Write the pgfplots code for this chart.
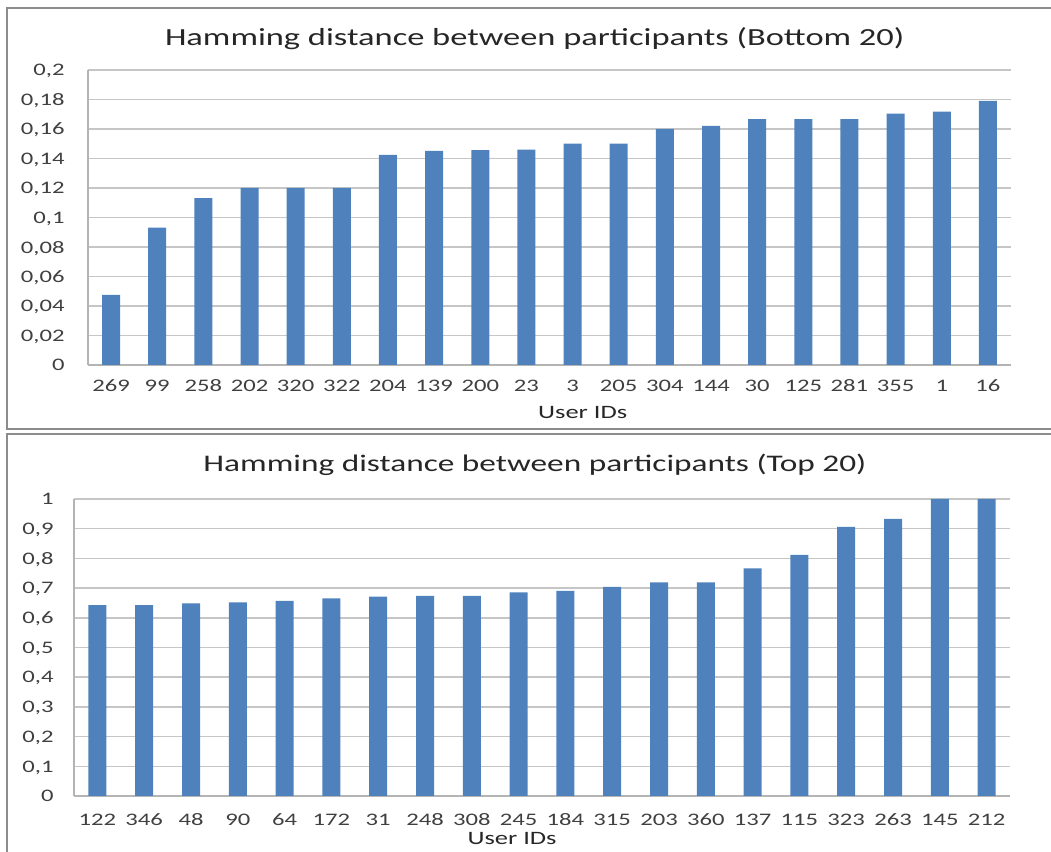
\documentclass[border=0pt]{standalone}
\usepackage{fontspec}
\setmainfont{Carlito}[FakeStretch=1.4]
\usepackage{pgfplots}
\pgfplotsset{compat=1.18}

\definecolor{barblue}{HTML}{4F81BD}
\definecolor{gridgray}{HTML}{C6C6C6}
\definecolor{axisgray}{HTML}{B4B4B4}
\definecolor{framegray}{HTML}{8C8C8C}
\definecolor{ticktext}{HTML}{404040}
\definecolor{titletext}{HTML}{262626}

\pgfplotsset{
  hamming/.style={
    scale only axis,
    ybar,
    bar width=9pt,
    bar shift=0pt,
    xmin=-0.5, xmax=19.5,
    ymin=0,
    axis x line*=bottom,
    axis y line*=left,
    axis line style={axisgray, line width=0.75pt},
    ymajorgrids,
    grid style={gridgray, line width=0.75pt},
    major tick length=0pt,
    xtick={0,...,19},
    /pgf/number format/assume math mode=true,
    /pgf/number format/.cd, use comma, fixed, precision=2, /pgfplots/.cd,
    tick label style={font=\fontsize{8.8}{10}\selectfont, text=ticktext},
    yticklabel style={anchor=east, inner sep=0pt, text depth=0pt},
    xticklabel style={anchor=base, inner sep=0pt},
    xlabel style={font=\fontsize{9.45}{12}\selectfont, text=titletext, anchor=base},
    title style={font=\fontsize{12.3}{14}\selectfont, text=titletext, anchor=base},
  }
}

\begin{document}
\begin{tikzpicture}
\useasboundingbox (0,0) rectangle (525.5pt,426pt);

% panel frames
\draw[framegray, line width=1pt] (525.5pt,422pt) -- (3.5pt,422pt) -- (3.5pt,211.5pt) -- (525.5pt,211.5pt);
\draw[framegray, line width=1pt] (525.5pt,209pt) -- (3.5pt,209pt) -- (3.5pt,0pt);

% Bottom 20
\begin{axis}[hamming,
  at={(44pt,243.5pt)}, anchor=south west,
  width=461.5pt, height=147.5pt,
  ymax=0.2,
  ytick={0,0.02,0.04,0.06,0.08,0.1,0.12,0.14,0.16,0.18,0.2},
  yticklabel style={xshift=-11.5pt},
  xticklabel style={yshift=-13.5pt},
  xticklabels={269,99,258,202,320,322,204,139,200,23,3,205,304,144,30,125,281,355,1,16},
  xlabel={User IDs},
  xlabel style={at={(axis description cs:0.536,-0.180)}},
  title={Hamming distance between participants (Bottom 20)},
  title style={at={(axis description cs:0.484,1.0426)}},
]
\addplot[fill=barblue, draw=none] coordinates {
  (0,0.0475) (1,0.0931) (2,0.1132) (3,0.12) (4,0.12)
  (5,0.12) (6,0.1424) (7,0.1451) (8,0.1456) (9,0.146)
  (10,0.15) (11,0.15) (12,0.16) (13,0.1622) (14,0.1667)
  (15,0.1667) (16,0.1667) (17,0.1704) (18,0.1717) (19,0.179)
};
\end{axis}

% Top 20
\begin{axis}[hamming,
  at={(37pt,28pt)}, anchor=south west,
  width=468pt, height=148.5pt,
  ymax=1,
  ytick={0,0.1,0.2,0.3,0.4,0.5,0.6,0.7,0.8,0.9,1},
  yticklabel style={xshift=-10pt},
  xticklabel style={yshift=-15pt},
  xticklabels={122,346,48,90,64,172,31,248,308,245,184,315,203,360,137,115,323,263,145,212},
  xlabel={User IDs},
  xlabel style={at={(axis description cs:0.468,-0.162)}},
  title={Hamming distance between participants (Top 20)},
  title style={at={(axis description cs:0.4925,1.0506)}, font=\fontsize{11.9}{14}\selectfont},
]
\addplot[fill=barblue, draw=none] coordinates {
  (0,0.643) (1,0.643) (2,0.6485) (3,0.652) (4,0.657)
  (5,0.665) (6,0.671) (7,0.674) (8,0.674) (9,0.6855)
  (10,0.691) (11,0.704) (12,0.719) (13,0.719) (14,0.766)
  (15,0.812) (16,0.906) (17,0.933) (18,1) (19,1)
};
\end{axis}
\end{tikzpicture}
\end{document}
